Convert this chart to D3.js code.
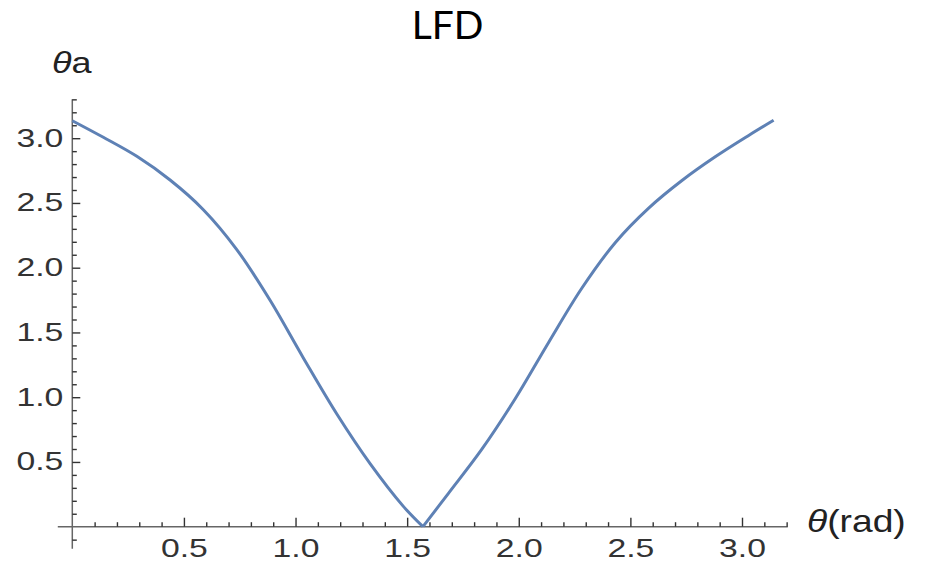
<!DOCTYPE html>
<html>
<head>
<meta charset="utf-8">
<script src="https://cdn.jsdelivr.net/npm/d3@7"></script>
<style>
  body { margin: 0; background: #fff; }
  svg { display: block; }
</style>
</head>
<body>
<div id="chart"></div>
<script>
// curve, split at the cusp
var leftTheta  = [0.0, 0.139, 0.289, 0.438, 0.587, 0.736, 0.886, 1.035, 1.185, 1.334, 1.483, 1.5708];
var leftVal    = [3.135, 3.007, 2.860, 2.677, 2.448, 2.142, 1.748, 1.303, 0.870, 0.487, 0.157, 0.0];
var rightTheta = [1.5708, 1.685, 1.834, 1.984, 2.133, 2.283, 2.432, 2.582, 2.731, 2.880, 3.030, 3.1416];
var rightVal   = [0.0, 0.258, 0.597, 0.988, 1.421, 1.843, 2.193, 2.460, 2.673, 2.856, 3.021, 3.138];

var xMajor = [0.5, 1.0, 1.5, 2.0, 2.5, 3.0];
var yMajor = [0.5, 1.0, 1.5, 2.0, 2.5, 3.0];

var width = 930, height = 567;
var sx = 1.35;   // labels in the picture are stretched sideways

var x = d3.scaleLinear().domain([0, 3]).range([72.3, 742]);
var y = d3.scaleLinear().domain([0, 3]).range([526.7, 138.2]);

var xMinor = d3.range(1, 33).map(function (i) { return i / 10; })
    .filter(function (v) { return Math.abs(v * 2 - Math.round(v * 2)) > 1e-6; });
var yMinor = d3.range(-1, 34).map(function (i) { return i / 10; })
    .filter(function (v) { return Math.abs(v * 2 - Math.round(v * 2)) > 1e-6; });

var svg = d3.select("#chart").append("svg")
    .attr("width", width)
    .attr("height", height);

var fmt = d3.format(".1f");

// axis lines
svg.append("line")
    .attr("x1", x(-0.065)).attr("x2", x(3.205))
    .attr("y1", y(0)).attr("y2", y(0))
    .attr("stroke", "#666").attr("stroke-width", 1.5);
svg.append("line")
    .attr("x1", x(0)).attr("x2", x(0))
    .attr("y1", y(-0.17)).attr("y2", y(3.3))
    .attr("stroke", "#666").attr("stroke-width", 1.5);

function styleAxis(g) {
    g.select(".domain").remove();
    g.attr("font-family", "'Liberation Sans', Arial, sans-serif")
     .attr("font-size", 25);
    g.selectAll("line").attr("stroke", "#333").attr("stroke-width", 1.4);
    g.selectAll("text").attr("fill", "#333");
}

// x axis
svg.append("g")
    .attr("transform", "translate(0," + y(0) + ")")
    .call(d3.axisBottom(x).tickValues(xMinor).tickSize(-4.5).tickFormat(""))
    .call(styleAxis);
var gx = svg.append("g")
    .attr("transform", "translate(0," + y(0) + ")")
    .call(d3.axisBottom(x).tickValues(xMajor).tickSize(-9).tickPadding(13).tickFormat(fmt))
    .call(styleAxis);
gx.selectAll("text").attr("transform", "scale(" + sx + ",1)");

// y axis
svg.append("g")
    .attr("transform", "translate(" + x(0) + ",0)")
    .call(d3.axisLeft(y).tickValues(yMinor).tickSize(-4.5).tickFormat(""))
    .call(styleAxis);
var gy = svg.append("g")
    .attr("transform", "translate(" + x(0) + ",0)")
    .call(d3.axisLeft(y).tickValues(yMajor).tickSize(-8).tickPadding(9).tickFormat(fmt))
    .call(styleAxis);
gy.selectAll("text")
    .attr("x", -9 / sx)
    .attr("transform", "scale(" + sx + ",1)");

// curve
var line = d3.line()
    .x(function (d) { return x(d[0]); })
    .y(function (d) { return y(d[1]); })
    .curve(d3.curveCatmullRom.alpha(0.5));

[[leftTheta, leftVal], [rightTheta, rightVal]].forEach(function (s) {
    svg.append("path")
        .datum(d3.zip(s[0], s[1]))
        .attr("d", line)
        .attr("fill", "none")
        .attr("stroke", "#5E81B5")
        .attr("stroke-width", 3)
        .attr("stroke-linejoin", "round");
});

// title
svg.append("text")
    .attr("transform", "translate(447.5,38.5)")
    .attr("text-anchor", "middle")
    .attr("font-family", "Lato, 'Open Sans', sans-serif")
    .attr("font-size", 39)
    .attr("fill", "#000")
    .text("LFD");

// axis labels
var yl = svg.append("text")
    .attr("transform", "translate(52,72.7) scale(1.2,1)")
    .attr("font-family", "'Liberation Sans', Arial, sans-serif")
    .attr("font-size", 30)
    .attr("fill", "#222");
yl.append("tspan").attr("font-style", "italic").text("θ");
yl.append("tspan").text("a");

var xl = svg.append("text")
    .attr("transform", "translate(807," + (y(0) + 5) + ") scale(1.2,1)")
    .attr("font-family", "'Liberation Sans', Arial, sans-serif")
    .attr("font-size", 31)
    .attr("fill", "#222");
xl.append("tspan").attr("font-style", "italic").text("θ");
xl.append("tspan").text("(rad)");
</script>
</body>
</html>
